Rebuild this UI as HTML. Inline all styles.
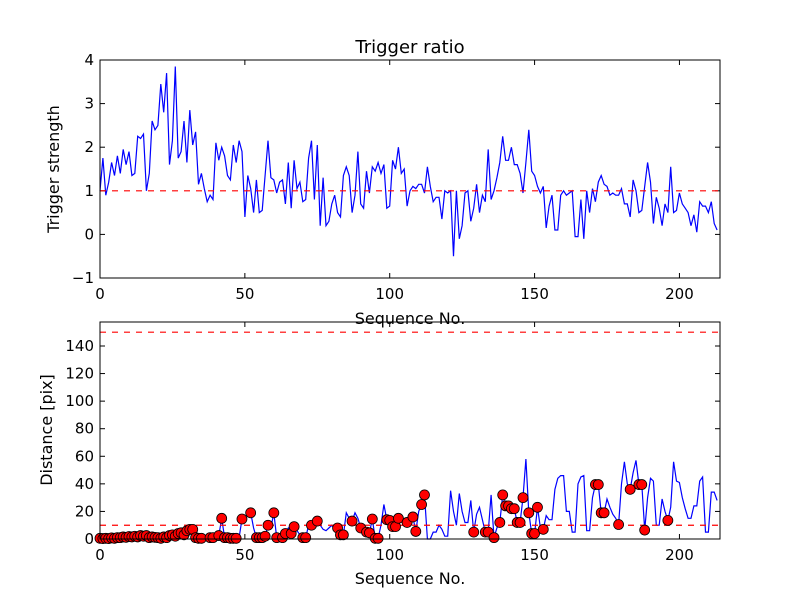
<!DOCTYPE html>
<html><head><meta charset="utf-8"><style>
body{margin:0;background:#fff}
svg text{font-family:"DejaVu Sans","Liberation Sans",sans-serif;fill:#000}
</style></head><body>
<svg id="c" width="800" height="600" xmlns="http://www.w3.org/2000/svg"></svg>
<script>
const strength=[1.0,1.75,0.9,1.2,1.65,1.35,1.8,1.4,1.95,1.6,1.9,1.35,1.4,2.25,2.2,2.3,1.0,1.4,2.6,2.4,2.5,3.45,2.8,3.7,1.6,2.15,3.85,1.75,1.9,2.6,1.65,2.85,2.05,2.35,1.15,1.4,1.05,0.75,0.9,0.8,2.1,1.7,2.0,1.8,1.35,1.25,2.05,1.65,2.15,1.9,0.4,1.35,1.05,0.5,1.25,0.5,0.55,1.35,2.15,1.3,1.25,0.95,1.2,1.25,0.7,1.65,0.6,1.7,1.05,1.2,0.75,0.8,1.75,2.15,0.8,2.05,0.2,1.3,0.2,0.3,0.7,0.9,0.5,0.4,1.35,1.55,1.35,0.5,0.9,1.9,0.7,0.6,1.45,0.95,1.55,1.45,1.65,1.4,1.6,0.6,0.65,1.7,1.5,2.0,1.4,1.5,0.65,1.0,1.1,1.05,1.15,1.15,0.95,1.55,1.1,0.75,0.85,0.85,0.35,1.0,0.95,1.0,-0.5,1.0,-0.1,0.2,0.95,1.0,0.3,0.6,1.15,0.5,0.9,0.75,1.95,0.8,1.0,1.3,1.65,2.25,1.7,1.7,2.0,1.6,1.6,1.4,0.95,1.65,2.4,1.45,1.35,1.1,0.95,1.1,0.15,0.65,0.9,0.1,0.1,0.9,1.0,0.9,0.95,1.0,-0.05,-0.05,0.8,-0.1,1.0,0.5,1.05,0.75,1.2,1.35,1.15,1.1,0.9,0.95,0.9,0.9,1.05,0.7,0.7,0.4,1.25,1.0,0.5,0.55,1.1,1.65,1.2,0.25,0.85,0.6,0.2,0.7,0.5,1.55,0.5,0.55,0.95,0.7,0.6,0.5,0.2,0.45,0.05,0.75,0.65,0.65,0.5,0.75,0.25,0.1];
const distance=[0.5,0.3,0.5,0.3,0.8,0.5,1,1,1.5,1.2,1.8,1.5,2,1.5,2.5,2,2.5,1,1.5,1.2,1,0.5,1.5,1,2.5,3,2,4,4.5,3,6,7,7,1,0.5,0.5,0,0,1,1,1,2.5,15,1,1,0.5,0.5,0.5,1,14.5,16,18,19,8,1,1,1,2,10,8,19,1,3,1,4,8,4,9,6,3,1,1,10,10,13,13,10,7,6,8,10,7,8,3,3,19,15,13,19,15,8,5,5,4.5,14.5,0.5,0.5,10,25,14,13.5,9,9,15,14,12,12,14,16,5.5,20,25,32,0,0,5,5,10,7,2,2,35,20,10,33,20,12,12,28,5,18,23,14,5,5,32,1,8,12,32,24,24,22,22,12,12,30,58,19,4,4,23,8,7,17,14,14,36,44,46,46,20,20,5,5,40,45,46,6,6,30,39.5,39.5,19,19,29,23,18,15,10.5,40,56,40,36,48,57,39.5,39.5,6.5,30,44,42,10,10,29,20,13.5,23,56,42,41,30,22,15,15,24,24,42,45,5,5,34,34,28];
const markerIdx=[0,1,2,3,4,5,6,7,8,9,10,11,12,13,14,15,16,17,18,19,20,21,22,23,24,25,26,27,28,29,30,31,32,33,34,35,38,39,41,42,43,44,45,46,47,49,52,54,55,56,57,58,60,61,63,64,66,67,70,71,73,75,82,83,84,87,90,92,93,94,95,96,99,100,101,102,103,106,108,109,111,112,129,133,134,136,138,139,140,141,142,143,144,145,146,148,149,150,151,153,171,172,173,174,179,183,186,187,188,196];
const topTicksY=[-1,0,1,2,3,4];
const botTicksY=[0,20,40,60,80,100,120,140];
const ticksX=[0,50,100,150,200];
const thrTop=1, thrBot=[10,150];

const svg=document.getElementById('c');const NS='http://www.w3.org/2000/svg';
function el(t,a,p){const e=document.createElementNS(NS,t);for(const k in a)e.setAttribute(k,a[k]);(p||svg).appendChild(e);return e;}
const X0=100,X1=720,XMAX=214;
const sx=v=>X0+(v/XMAX)*(X1-X0);
function panel(T,B,ymin,ymax,yt,name){
  const sy=v=>B-(v-ymin)/(ymax-ymin)*(B-T);
  const g=el('g',{});
  
  
  ticksX.forEach(t=>{const x=sx(t);
    el('line',{x1:x,x2:x,y1:B,y2:B-5,stroke:'#000'},g);el('line',{x1:x,x2:x,y1:T,y2:T+5,stroke:'#000'},g);
    const tx=el('text',{x:x,y:B+21,'text-anchor':'middle','font-size':15},g);tx.textContent=t;
    
    });
  yt.forEach(t=>{const y=sy(t);
    el('line',{x1:X0,x2:X0+5,y1:y,y2:y,stroke:'#000'},g);el('line',{x1:X1,x2:X1-5,y1:y,y2:y,stroke:'#000'},g);
    const tx=el('text',{x:X0-6,y:y+5,'text-anchor':'end','font-size':15},g);tx.textContent=(t<0?'\u2212'+(-t):t);
    
    });
  return {sy,g};
}
const tp=panel(60,278,-1,4,topTicksY,'strength-panel');
let d=strength.map((v,i)=>(i?'L':'M')+sx(i).toFixed(1)+','+tp.sy(v).toFixed(1)).join('');
const l1=el('path',{d:d,fill:'none',stroke:'#0000ff','stroke-width':1.2},tp.g);


const h1=el('line',{x1:X0,x2:X1,y1:tp.sy(thrTop),y2:tp.sy(thrTop),stroke:'#ff0000','stroke-dasharray':'6,6','stroke-width':1.2},tp.g);


el('rect',{x:X0,y:60,width:X1-X0,height:218,fill:'none',stroke:'#000'},tp.g);
const bp=panel(322,539,0,157.4,botTicksY,'distance-panel');
d=distance.map((v,i)=>(i?'L':'M')+sx(i).toFixed(1)+','+bp.sy(v).toFixed(1)).join('');
const l2=el('path',{d:d,fill:'none',stroke:'#0000ff','stroke-width':1.2},bp.g);


thrBot.forEach(t=>{const h=el('line',{x1:X0,x2:X1,y1:bp.sy(t),y2:bp.sy(t),stroke:'#ff0000','stroke-dasharray':'6,6','stroke-width':1.2},bp.g);
  
  });
markerIdx.forEach(i=>{const c=el('circle',{cx:sx(i),cy:bp.sy(distance[i]),r:5,fill:'#ff0000',stroke:'#000','stroke-width':0.8},bp.g);
  
  });
el('rect',{x:X0,y:322,width:X1-X0,height:217,fill:'none',stroke:'#000'},bp.g);
function txt(s,a,name){const t=el('text',a);t.textContent=s;
  
  }
txt('Trigger ratio',{x:410,y:53,'text-anchor':'middle','font-size':18},'chart-title');
txt('Sequence No.',{x:410,y:324,'text-anchor':'middle','font-size':16},'top-x-axis-title');
txt('Sequence No.',{x:410,y:584,'text-anchor':'middle','font-size':16},'bottom-x-axis-title');
txt('Trigger strength',{x:59,y:169,'text-anchor':'middle','font-size':16,transform:'rotate(-90 59 169)'},'top-y-axis-title');
txt('Distance [pix]',{x:52,y:430,'text-anchor':'middle','font-size':16,transform:'rotate(-90 52 430)'},'bottom-y-axis-title');
</script>
</body></html>
